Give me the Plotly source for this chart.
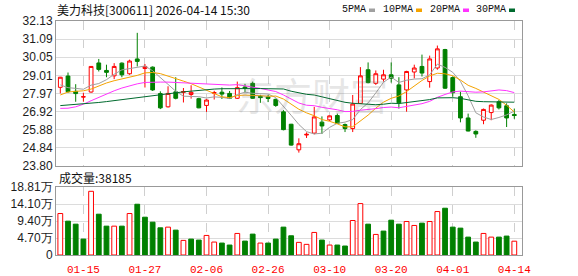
import plotly.graph_objects as go

# ---------------- data ----------------
dates = ["01-12", "01-13", "01-14", "01-15", "01-16", "01-19", "01-20", "01-21", "01-22", "01-23",
         "01-26", "01-27", "01-28", "01-29", "01-30", "02-02", "02-03", "02-04", "02-05", "02-06",
         "02-09", "02-10", "02-11", "02-12", "02-13", "02-24", "02-25", "02-26", "02-27", "03-02",
         "03-03", "03-04", "03-05", "03-06", "03-09", "03-10", "03-11", "03-12", "03-13", "03-16",
         "03-17", "03-18", "03-19", "03-20", "03-23", "03-24", "03-25", "03-26", "03-27", "03-30",
         "03-31", "04-01", "04-02", "04-03", "04-07", "04-08", "04-09", "04-10", "04-13", "04-14"]

open_ = [28.32, 28.97, 28.09, 27.76, 28.05, 29.72, 29.29, 28.98, 29.71, 29.10,
         29.95, 29.40, 29.48, 27.96, 27.20, 28.06, 28.03, 27.91, 27.67, 27.28,
         27.98, 28.04, 27.97, 27.69, 28.34, 28.55, 27.80, 27.76, 27.63, 26.91,
         26.20, 24.73, 25.58, 25.69, 26.32, 26.45, 26.70, 26.18, 25.95, 27.40,
         29.33, 28.55, 28.79, 29.04, 28.46, 28.17, 29.20, 29.52, 28.65, 29.43,
         30.49, 28.88, 27.78, 26.56, 25.79, 26.43, 26.87, 27.49, 27.26, 26.76]
high = [28.92, 29.17, 28.50, 28.01, 29.54, 29.95, 29.62, 29.71, 29.75, 29.91,
        31.45, 29.66, 29.52, 28.09, 28.38, 28.90, 28.28, 28.44, 27.72, 27.63,
        28.12, 28.31, 28.11, 28.65, 28.52, 28.65, 27.89, 27.89, 27.67, 27.01,
        26.22, 25.39, 25.73, 27.20, 26.65, 26.70, 26.81, 26.24, 27.88, 29.48,
        29.75, 29.29, 29.33, 29.75, 28.90, 29.27, 29.62, 30.20, 30.14, 30.72,
        30.53, 28.94, 28.07, 26.81, 25.85, 27.10, 27.34, 27.59, 27.40, 27.10]
low = [27.97, 28.01, 27.49, 27.50, 28.01, 29.23, 28.90, 28.79, 28.90, 29.04,
       29.52, 28.31, 28.11, 27.07, 27.16, 27.63, 27.45, 27.67, 27.12, 26.91,
       27.62, 27.65, 27.65, 27.65, 28.03, 27.67, 27.43, 27.47, 27.20, 25.85,
       24.97, 24.57, 25.41, 25.62, 25.64, 26.38, 26.22, 25.75, 25.75, 27.38,
       28.55, 28.46, 28.65, 28.59, 27.10, 26.92, 28.83, 28.94, 28.30, 29.33,
       28.23, 27.78, 26.31, 25.79, 25.42, 26.20, 26.43, 27.05, 26.04, 26.51]
close = [28.90, 28.07, 27.96, 27.78, 29.52, 29.35, 29.18, 29.52, 29.04, 29.83,
         29.81, 29.52, 28.17, 27.14, 27.97, 27.69, 28.08, 28.03, 27.14, 27.59,
         28.02, 27.93, 27.69, 28.30, 28.27, 27.69, 27.73, 27.68, 27.28, 25.89,
         25.00, 25.08, 25.62, 26.62, 26.10, 26.68, 26.25, 25.95, 27.36, 28.98,
         28.59, 29.10, 29.04, 28.84, 27.43, 29.23, 29.43, 29.14, 29.95, 30.53,
         28.27, 28.01, 26.56, 25.81, 25.64, 27.05, 27.30, 27.14, 26.56, 26.70]
volume = [114700, 93600, 85300, 44000, 176200, 112900, 79800, 79800, 79800, 114700,
          140400, 104600, 90800, 75200, 77100, 68800, 40400, 44000, 41300, 54100,
          35800, 33000, 27500, 59600, 38500, 57800, 33000, 33000, 44000, 77100,
          53200, 34900, 29400, 62400, 41300, 27500, 27500, 24800, 95400, 142200,
          85300, 56900, 66100, 96300, 85300, 92700, 81700, 88100, 92700, 120200,
          129400, 77100, 74300, 49500, 35800, 59600, 49500, 49500, 52300, 38185]

# moving-average values before a full window is available
ma5_head = [28.46, 28.30, 28.26, 28.21]
ma10_head = [27.88, 28.05, 28.09, 28.12, 28.22, 28.40, 28.57, 28.70, 28.80]
ma20_head = [27.11, 27.12, 27.20, 27.35, 27.55, 27.75, 27.95, 28.12, 28.28, 28.42,
             28.52, 28.60, 28.63, 28.62, 28.62, 28.60, 28.57, 28.55, 28.52]
ma30_head = [27.27, 27.30, 27.33, 27.36, 27.40, 27.45, 27.50, 27.56, 27.62, 27.68,
             27.72, 27.78, 27.83, 27.88, 27.94, 28.00, 28.06, 28.10, 28.15, 28.19,
             28.22, 28.24, 28.25, 28.26, 28.26, 28.25, 28.25, 28.24, 28.23]

price_ticks = [23.80, 24.84, 25.88, 26.92, 27.97, 29.01, 30.05, 31.09, 32.13]
vol_ticks = [0, 47000, 94000, 141000, 188100]
vol_tick_text = ["0", "4.70万", "9.40万", "14.10万", "18.81万"]
date_ticks = ["01-15", "01-27", "02-06", "02-26", "03-10", "03-20", "04-01", "04-14"]

title_text = "美力科技[300611] 2026-04-14 15:30"
ma_names = ["5PMA", "10PMA", "20PMA", "30PMA"]
ma_colors = ["#a0a0a0", "#f5a300", "#ff33ff", "#006a2e"]

RED = "#ff0000"
GREEN = "#008000"

n = len(dates)
xs = list(range(n))


def ma(period, head):
    out = list(head)
    for i in range(period - 1, n):
        out.append(sum(close[i - period + 1:i + 1]) / period)
    return out


ma_series = [ma(5, ma5_head), ma(10, ma10_head), ma(20, ma20_head), ma(30, ma30_head)]

vol_up = [close[i] >= (close[i - 1] if i > 0 else open_[i]) for i in range(n)]

fig = go.Figure()

for vals, col in zip(ma_series, ma_colors):
    fig.add_trace(go.Scatter(x=xs, y=vals, mode="lines", line=dict(color=col, width=1),
                             xaxis="x", yaxis="y", hoverinfo="skip"))

fig.add_trace(go.Candlestick(
    x=xs, open=open_, high=high, low=low, close=close,
    increasing=dict(line=dict(color=RED, width=1), fillcolor="white"),
    decreasing=dict(line=dict(color=GREEN, width=1), fillcolor=GREEN),
    whiskerwidth=0, xaxis="x", yaxis="y"))

fig.add_trace(go.Bar(
    x=xs, y=volume, width=0.62,
    marker=dict(color=["white" if u else GREEN for u in vol_up],
                line=dict(color=[RED if u else GREEN for u in vol_up], width=1)),
    xaxis="x2", yaxis="y2"))

tick_idx = [dates.index(d) for d in date_ticks]
xrange_ = [-0.56, n]

grid_c = "#dcdcdc"
border_c = "#999999"
axis_font = dict(family="Liberation Sans, Arial", size=12, color="#1c1c1c")

common_x = dict(range=xrange_, tickmode="array", tickvals=tick_idx, showgrid=True,
                gridcolor="#cfcfcf", griddash="dash", gridwidth=1, zeroline=False,
                showline=True, linecolor=border_c, linewidth=1, mirror=True, ticks="")

fig.update_layout(
    width=578, height=276,
    margin=dict(l=56, r=56, t=21, b=21, autoexpand=False),
    paper_bgcolor="white", plot_bgcolor="white",
    showlegend=False,
    xaxis=dict(**common_x, anchor="y", showticklabels=False, rangeslider=dict(visible=False)),
    xaxis2=dict(**common_x, anchor="y2", matches="x", ticktext=date_ticks,
                showticklabels=True,
                tickfont=dict(family="Liberation Mono, monospace", size=11, color=RED),
                ticklabelstandoff=4),
    yaxis=dict(domain=[0.3803, 1.0], range=[price_ticks[0], price_ticks[-1]],
               tickmode="array", tickvals=price_ticks,
               ticktext=["%.2f" % v for v in price_ticks],
               showgrid=True, gridcolor=grid_c, gridwidth=1, zeroline=False,
               showline=True, linecolor=border_c, linewidth=1, mirror=True,
               tickfont=axis_font, ticks="", anchor="x"),
    yaxis2=dict(domain=[0.0, 0.2906], range=[0, vol_ticks[-1]],
                tickmode="array", tickvals=vol_ticks, ticktext=vol_tick_text,
                showgrid=True, gridcolor=grid_c, gridwidth=1, zeroline=False,
                showline=True, linecolor=border_c, linewidth=1, mirror=True,
                tickfont=axis_font, ticks="", anchor="x2"),
)

PLOT_L, PLOT_W, PLOT_B, PLOT_H = 56, 466, 255, 234


def px(xp):
    return (xp - PLOT_L) / PLOT_W


def py(yp):
    return (PLOT_B - yp) / PLOT_H


ann = []
ann.append(dict(x=px(55), y=py(10), xref="paper", yref="paper", xanchor="left", yanchor="middle",
                showarrow=False, text=title_text,
                font=dict(family="Noto Sans CJK SC", size=12, color="#111")))
ann.append(dict(x=px(57), y=py(177), xref="paper", yref="paper", xanchor="left", yanchor="middle",
                showarrow=False, text="成交量:" + str(volume[-1]),
                font=dict(family="Noto Sans CJK SC", size=12, color="#111")))
ann.append(dict(x=px(312), y=py(93), xref="paper", yref="paper", xanchor="center", yanchor="middle",
                showarrow=False, text="东方财富", opacity=0.18,
                font=dict(family="Noto Sans CJK SC", size=38, color="#777")))

legend_x = [340, 381, 428, 474]
square_x = [369, 416, 463, 509]
shapes = []
for name, col, lx, sx in zip(ma_names, ma_colors, legend_x, square_x):
    ann.append(dict(x=px(lx), y=py(10), xref="paper", yref="paper", xanchor="left", yanchor="middle",
                    showarrow=False, text=name,
                    font=dict(family="Liberation Mono, monospace", size=10, color="#111")))
    shapes.append(dict(type="rect", xref="paper", yref="paper",
                       x0=px(sx), x1=px(sx + 6), y0=py(12), y1=py(8.5),
                       fillcolor=col, line=dict(width=0)))

fig.update_layout(annotations=ann, shapes=shapes)

fig.write_html("out.html")
